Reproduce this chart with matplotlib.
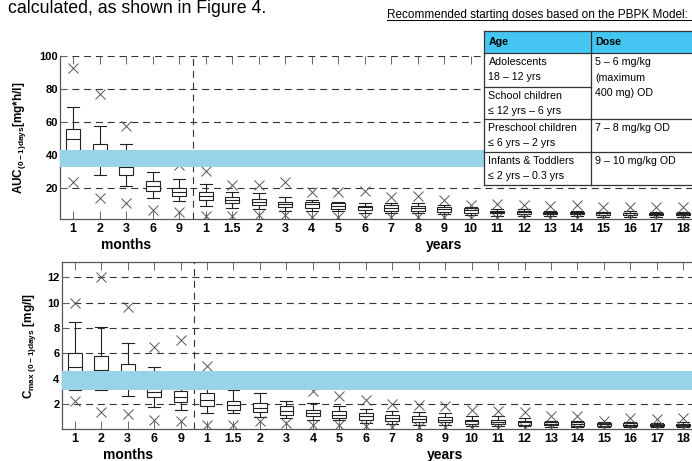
import numpy as np
import matplotlib
matplotlib.use("Agg")
import matplotlib.pyplot as plt
from matplotlib.patches import Rectangle

plt.rcParams['font.family'] = ['Liberation Sans', 'DejaVu Sans']
plt.rcParams['mathtext.default'] = 'regular'
plt.rcParams['lines.scale_dashes'] = False

# group labels: 5 month groups then 19 year groups
tick_labels = ['1', '2', '3', '6', '9',
               '1', '1.5', '2', '3', '4', '5', '6', '7', '8', '9', '10',
               '11', '12', '13', '14', '15', '16', '17', '18']

# AUC(0-1)days [mg*h/l]
auc_max = [92.6, 77, 57.5, 37, 34, 29.8, 21.6, 21.6, 23.6, 17.6, 17.6, 18.2,
           14.5, 15, 12.5, 9.5, 9.9, 9.5, 8.9, 9.5, 8.5, 8.5, 8.0, 8.0]
auc_whishi = [68.9, 57.5, 46.4, 29.7, 25.4, 22.1, 17.6, 16.6, 14.2, 12.5, 11.5, 10.5,
              10.5, 10.5, 9.5, 8.5, 7.1, 6.8, 6.0, 6.0, 5.5, 5.8, 5.4, 5.0]
auc_q3 = [55.5, 46.4, 39, 24.3, 19.8, 17.4, 14.5, 13.1, 11.1, 11.1, 10.5, 9.1,
          9.5, 9.1, 8.1, 7.8, 6.0, 5.7, 5.5, 5.5, 5.0, 4.8, 4.8, 4.8]
auc_med = [49.8, 40, 32.3, 21.2, 17.5, 15, 12.5, 11.5, 9.9, 9.9, 8.9, 8.1,
           7.8, 7.5, 7.1, 6.4, 5.2, 5.0, 4.9, 4.8, 4.4, 4.4, 4.2, 4.2]
auc_q1 = [42, 35, 27.5, 18, 14.7, 12.8, 10.5, 9.5, 8.4, 7.8, 7.1, 6.4,
          6.0, 6.0, 5.4, 4.8, 4.4, 4.1, 4.2, 4.2, 3.6, 3.6, 3.6, 3.4]
auc_whislo = [34, 27.7, 20.9, 13.6, 12, 8.7, 7.5, 7.1, 6, 6, 6, 4.8,
              4.4, 4.4, 4.0, 3.4, 2.8, 2.6, 2.8, 2.8, 2.4, 2.4, 2.4, 2.4]
auc_min = [23.6, 13.6, 10.5, 6.4, 5.4, 2.6, 2.8, 3.5, 3.4, 2, 2, 1.8,
           2, 2, 2, 1.8, 1.5, 1.5, 1.5, 1.5, 1.5, 1.5, 1.5, 1.5]
auc_band = (32.8, 42.7)

# Cmax (0-1)days [mg/l]
cmax_max = [9.95, 12.0, 9.69, 6.49, 7.07, 4.97, 4.0, 3.7, 3.6, 3.05, 2.6, 2.34,
            2.03, 1.95, 1.87, 1.55, 1.42, 1.34, 1.08, 1.08, 0.69, 0.9, 0.82, 0.9]
cmax_whishi = [8.46, 8.06, 6.86, 4.89, 4.0, 3.9, 3.08, 2.87, 2.26, 2.08, 1.87, 1.63,
               1.42, 1.34, 1.29, 1.08, 1.03, 0.9, 0.69, 0.69, 0.56, 0.58, 0.5, 0.56]
cmax_q3 = [6.0, 5.83, 5.2, 3.4, 3.05, 2.87, 2.21, 2.08, 1.82, 1.55, 1.42, 1.29,
           1.11, 1.03, 0.95, 0.77, 0.71, 0.69, 0.56, 0.56, 0.5, 0.5, 0.45, 0.45]
cmax_med = [4.89, 4.7, 4.3, 2.94, 2.52, 2.29, 1.95, 1.69, 1.42, 1.29, 1.16, 1.03,
            0.9, 0.82, 0.77, 0.64, 0.58, 0.56, 0.45, 0.45, 0.4, 0.37, 0.35, 0.35]
cmax_q1 = [3.3, 3.2, 3.5, 2.52, 2.16, 1.87, 1.55, 1.34, 1.16, 1.08, 0.9, 0.77,
           0.64, 0.58, 0.56, 0.45, 0.43, 0.37, 0.32, 0.29, 0.29, 0.24, 0.24, 0.24]
cmax_whislo = [3.1, 3.08, 2.66, 1.76, 1.55, 1.29, 1.29, 0.98, 0.9, 0.71, 0.71, 0.5,
               0.43, 0.37, 0.37, 0.29, 0.24, 0.24, 0.19, 0.19, 0.19, 0.17, 0.17, 0.17]
cmax_min = [2.2, 1.34, 1.24, 0.77, 0.64, 0.37, 0.37, 0.64, 0.5, 0.37, 0.37, 0.24,
            0.2, 0.2, 0.2, 0.11, 0.11, 0.1, 0.1, 0.1, 0.1, 0.08, 0.08, 0.08]
cmax_band = (3.1, 4.6)

age_rows = [("Adolescents", "18 \u2013 12 yrs"),
            ("School children", "\u2264 12 yrs \u2013 6 yrs"),
            ("Preschool children", "\u2264 6 yrs \u2013 2 yrs"),
            ("Infants & Toddlers", "\u2264 2 yrs \u2013 0.3 yrs")]
dose_rows = [["5 \u2013 6 mg/kg", "(maximum", "400 mg) OD"],
             ["7 \u2013 8 mg/kg OD"],
             ["9 \u2013 10 mg/kg OD"]]

pos = np.arange(1, len(tick_labels) + 1)
dash = (0, (5, 3.5))
edge = '#222222'


def panel(ax, mx, hi, q3, med, q1, lo, mn, band, ylim, yticks, ylabel, lx):
    stats = [dict(whislo=lo[i], q1=q1[i], med=med[i], q3=q3[i], whishi=hi[i], fliers=[])
             for i in range(len(pos))]
    lp = dict(color=edge, linewidth=0.8)
    ax.bxp(stats, positions=pos, widths=0.52, capwidths=0.45, patch_artist=True,
           boxprops=dict(facecolor='white', edgecolor=edge, linewidth=0.8),
           medianprops=lp, whiskerprops=lp, capprops=lp, manage_ticks=False, zorder=3)
    ax.plot(pos, mx, 'x', color='#555555', ms=7, mew=0.7, ls='none', zorder=3)
    ax.plot(pos, mn, 'x', color='#555555', ms=7, mew=0.7, ls='none', zorder=3)
    ax.axhspan(band[0], band[1], color='#97d4e9', lw=0, zorder=4)
    ax.axvline(5.5, color='#333333', ls=dash, lw=0.8, zorder=2)
    for t in yticks:
        ax.axhline(t, color='#333333', ls=dash, lw=0.8, zorder=1)
    ax.set_xlim(0.5, 24.5)
    ax.set_ylim(*ylim)
    ax.set_xticks(pos, tick_labels, fontsize=9, fontweight='bold')
    ax.set_yticks(yticks, [str(t) for t in yticks], fontsize=8, fontweight='bold')
    ax.tick_params(axis='x', direction='in', length=6, width=0.7, color='#666666',
                   top=True, pad=3)
    ax.tick_params(axis='y', direction='in', length=4, width=0.7, color='#666666', pad=1.5)
    for s in ax.spines.values():
        s.set_color('#555555')
        s.set_linewidth(0.9)
    ax.set_ylabel(ylabel, fontsize=8.5, fontweight='bold')
    ax.yaxis.set_label_coords(lx, 0.5)
    for xc, name in [(3, 'months'), (15, 'years')]:
        ax.annotate(name, xy=(xc, 0), xycoords=('data', 'axes fraction'),
                    xytext=(0, -26), textcoords='offset pixels', ha='center',
                    va='center', fontsize=10, fontweight='bold')


fig = plt.figure(figsize=(6.92, 4.61), dpi=100)

ax1 = fig.add_axes([60 / 692, 1 - 219 / 461, 636 / 692, (219 - 55.7) / 461])
panel(ax1, auc_max, auc_whishi, auc_q3, auc_med, auc_q1, auc_whislo, auc_min, auc_band,
      (1, 100), [20, 40, 60, 80, 100], r'AUC$_{(0-1)days}$[mg*h/l]', -0.05)
ax1.spines['top'].set_visible(False)

ax2 = fig.add_axes([61.5 / 692, 1 - 429.3 / 461, 635 / 692, (429.3 - 262.3) / 461])
panel(ax2, cmax_max, cmax_whishi, cmax_q3, cmax_med, cmax_q1, cmax_whislo, cmax_min,
      cmax_band, (0, 13.2), [2, 4, 6, 8, 10, 12], r'C$_{max\ (0-1)days}$ [mg/l]', -0.037)

# overlay in pixel coordinates for the page text and the dose table
ov = fig.add_axes([0, 0, 1, 1], zorder=10)
ov.set_xlim(0, 692)
ov.set_ylim(461, 0)
ov.axis('off')
ov.patch.set_alpha(0)

ov.text(8, 13.2, "calculated, as shown in Figure 4.", fontsize=12.8, va='baseline')
ov.text(386.7, 15, "Recommended starting doses based on the PBPK Model:",
        fontsize=8.5, va='center')
ov.plot([386.7, 692], [20.5, 20.5], color='black', lw=0.7)

tx0, tx1, tc = 484, 720, 591
ty = [31, 53.3, 86.7, 119.3, 152.3, 185.3]
ov.add_patch(Rectangle((tx0, ty[0]), tx1 - tx0, ty[1] - ty[0], facecolor='#45c6f2', lw=0))
ov.add_patch(Rectangle((tx0, ty[1]), tx1 - tx0, ty[-1] - ty[1], facecolor='white', lw=0))
lk = dict(color='#333333', lw=0.9)
ov.plot([tx0, tx0], [ty[0], ty[-1]], **lk)
ov.plot([tc, tc], [ty[0], ty[-1]], **lk)
for y in [ty[0], ty[1], ty[3], ty[4], ty[5]]:
    ov.plot([tx0, tx1], [y, y], **lk)
ov.plot([tx0, tc], [ty[2], ty[2]], **lk)

fs = 7.7
ov.text(488.5, 42, "Age", fontsize=fs, fontweight='bold', va='center')
ov.text(595, 42, "Dose", fontsize=fs, fontweight='bold', va='center')
for i, (a, b) in enumerate(age_rows):
    ov.text(488.5, ty[i + 1] + 9, a, fontsize=fs, va='center')
    ov.text(488.5, ty[i + 1] + 24, b, fontsize=fs, va='center')
dose_top = [ty[1], ty[3], ty[4]]
for y0, lines in zip(dose_top, dose_rows):
    for k, s in enumerate(lines):
        ov.text(595, y0 + 9 + k * 15.5, s, fontsize=fs, va='center')

fig.savefig('out.png', dpi=100)
